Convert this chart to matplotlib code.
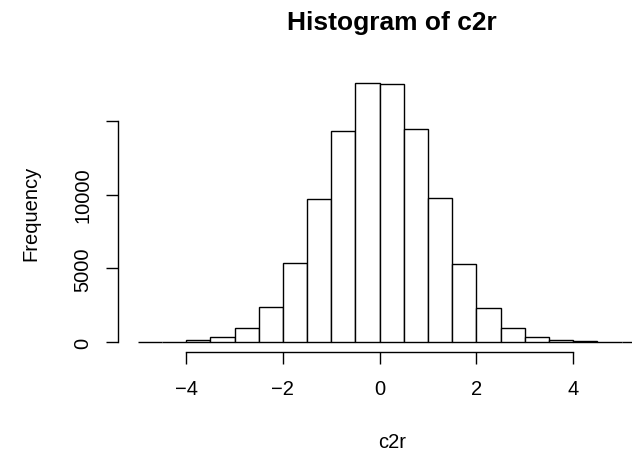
import numpy as np
import matplotlib
matplotlib.use("Agg")
import matplotlib.pyplot as plt

plt.rcParams['font.family'] = ['Liberation Sans', 'DejaVu Sans']

# histogram of c2r, bin width 0.5 from -5 to 5.5
breaks = np.arange(-5.0, 5.51, 0.5)
counts = [5, 25, 115, 318, 950, 2356, 5378, 9708, 14316, 17585,
          17515, 14430, 9755, 5262, 2335, 960, 330, 130, 30, 8, 2]
yticks = [0, 5000, 10000, 15000]
ylabels = ['0', '5000', '10000', '']
xticks = [-4, -2, 0, 2, 4]

W, H = 632, 456
fig = plt.figure(figsize=(W / 100, H / 100), dpi=100)
# plot region in pixels (R style, runs past right edge of the picture)
left, right, top, bottom = 117.5, 666.0, 73.6, 353.3
ax = fig.add_axes([left / W, 1 - bottom / H, (right - left) / W, (bottom - top) / H])

ax.bar(breaks[:-1], counts, width=0.5, align='edge', color='white',
       edgecolor='black', linewidth=1.0)

ax.set_xlim(-5.42, 5.92)
ax.set_ylim(-0.04 * max(counts), 1.04 * max(counts))

for s in ['top', 'right']:
    ax.spines[s].set_visible(False)
ax.spines['left'].set_bounds(0, 15000)
ax.spines['bottom'].set_bounds(-4, 4)
ax.spines['left'].set_linewidth(1.0)
ax.spines['bottom'].set_linewidth(1.0)

ax.set_xticks(xticks)
ax.set_yticks(yticks)
ax.set_yticklabels(ylabels, rotation=90, va='center')
ax.tick_params(direction='out', length=8.4, width=1.0, labelsize=14.5)
ax.tick_params(axis='x', pad=10.5)
ax.tick_params(axis='y', pad=9.5)

ax.set_title('Histogram of c2r', fontsize=19, fontweight='bold', pad=31.4)
ax.set_xlabel('c2r', fontsize=14.5)
ax.set_ylabel('Frequency', fontsize=14.5)
ax.xaxis.label.set_va('baseline')
ax.xaxis.set_label_coords(0.5, (bottom - 448) / (bottom - top))
ax.yaxis.label.set_va('baseline')
ax.yaxis.set_label_coords((36.6 - left) / (right - left), 0.5)

fig.savefig('out.png', dpi=100)
